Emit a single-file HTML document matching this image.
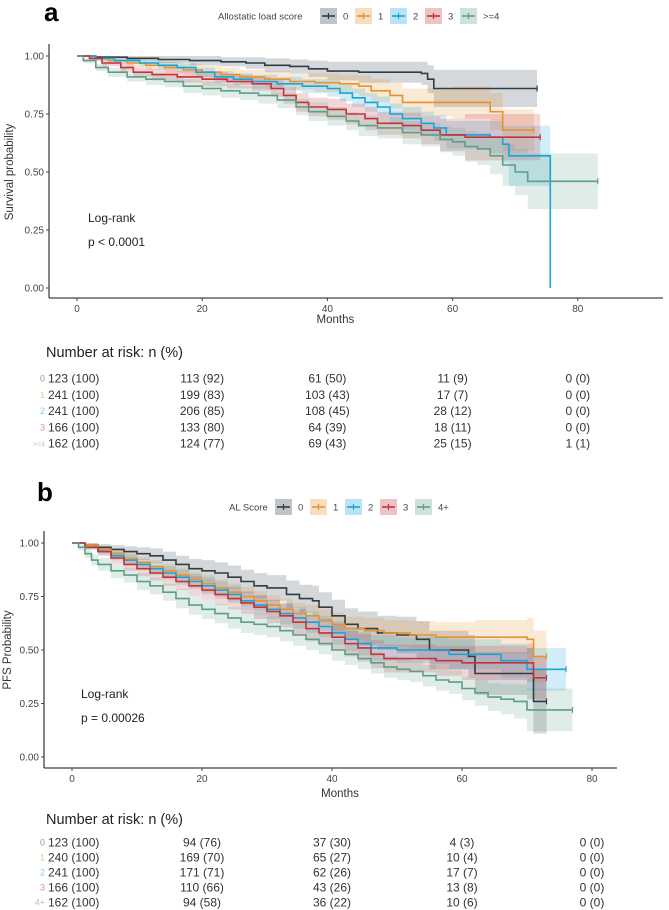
<!DOCTYPE html>
<html><head><meta charset="utf-8">
<style>
html,body{margin:0;padding:0;background:#fff;}
svg{display:block;font-family:"Liberation Sans",sans-serif;}
</style></head>
<body>
<svg id="fig" width="669" height="910" viewBox="0 0 669 910" xmlns="http://www.w3.org/2000/svg"></svg>
<script>
// ---------- DATA ----------
const groupColors = ["#2f3d44","#e8922f","#19a4d8","#c1343d","#5e9e86"];
const labelsA = ["0","1","2","3",">=4"];
const labelsB = ["0","1","2","3","4+"];
const xTicks = [0,20,40,60,80];
const yTicks = [0,0.25,0.5,0.75,1];
const yTickLabels = ["0.00","0.25","0.50","0.75","1.00"];

// Panel a: overall survival (months, probability, CI half-width)
const a0T = [0,3,8,13,18,23,27,30,34,37,40,45,50,55,56,57,73.5];
const a0S = [1,.995,.99,.985,.98,.975,.97,.96,.955,.945,.935,.93,.93,.925,.9,.86,.86];
const a0H = [0,.005,.01,.015,.02,.02,.025,.03,.03,.035,.04,.045,.045,.05,.06,.08,.11];
const a1T = [0,2,5,8,11,14,17,20,23,26,30,34,38,42,45,47,50,52,60,66,68,73];
const a1S = [1,.99,.98,.97,.96,.95,.94,.93,.92,.91,.90,.89,.885,.88,.87,.85,.83,.80,.80,.76,.68,.68];
const a1H = [0,.01,.015,.02,.02,.025,.025,.03,.03,.03,.035,.035,.04,.04,.045,.05,.055,.06,.07,.08,.09,.09];
const a2T = [0,3,6,10,13,16,19,22,25,28,32,36,40,42,44,46,48,50,52,55,57,59,66,68,69,75.6,75.6];
const a2S = [1,.99,.98,.97,.96,.95,.93,.91,.90,.89,.88,.87,.86,.84,.82,.80,.78,.75,.73,.71,.69,.66,.65,.62,.57,.57,0];
const a2H = [0,.01,.01,.015,.015,.02,.02,.025,.025,.03,.03,.03,.035,.035,.04,.04,.045,.045,.05,.05,.055,.06,.07,.08,.13,.14,0];
const a3T = [0,2,4,7,9,12,16,20,24,28,31,33,35,37,40,43,46,48,52,55,58,62,74];
const a3S = [1,.99,.97,.95,.93,.92,.91,.90,.89,.88,.86,.83,.80,.78,.77,.75,.73,.71,.70,.68,.66,.65,.65];
const a3H = [0,.01,.015,.02,.02,.025,.025,.03,.03,.03,.035,.035,.04,.04,.045,.045,.05,.05,.055,.06,.07,.1,.11];
const a4T = [0,1,3,5,8,11,14,17,20,23,26,29,32,35,37,40,43,45,48,52,55,58,60,62,64,66,68,70,72,83.2];
const a4S = [1,.98,.95,.93,.91,.90,.89,.87,.86,.85,.84,.83,.81,.78,.76,.74,.72,.70,.69,.67,.66,.64,.63,.61,.60,.57,.53,.50,.46,.46];
const a4H = [0,.01,.015,.02,.02,.025,.025,.03,.03,.03,.03,.035,.035,.035,.04,.04,.04,.045,.045,.05,.05,.055,.06,.065,.07,.08,.09,.1,.12,.16];

// Panel b: progression-free survival
const b0T = [0,2,4,6,8,10,12,14,16,18,20,22,24,26,28,30,33,35,37,38,40,42,44,47,50,53,55,58,61,62,70,71,73];
const b0S = [1,.99,.98,.97,.96,.95,.94,.92,.90,.88,.87,.86,.84,.82,.80,.79,.76,.74,.73,.70,.66,.62,.60,.58,.57,.55,.50,.50,.47,.39,.39,.26,.26];
const b0H = [0,.01,.015,.02,.025,.03,.035,.04,.04,.045,.05,.05,.055,.055,.06,.06,.065,.065,.07,.07,.075,.075,.08,.08,.085,.085,.09,.09,.1,.1,.12,.15,.15];
const b1T = [0,2,4,6,8,10,12,14,16,18,20,22,24,26,28,30,32,34,36,38,40,42,45,48,52,56,62,70,71,73];
const b1S = [1,.99,.97,.95,.93,.91,.89,.87,.85,.83,.81,.79,.77,.75,.73,.71,.69,.67,.66,.64,.62,.60,.59,.58,.57,.56,.56,.55,.47,.47];
const b1H = [0,.01,.015,.02,.025,.025,.03,.03,.035,.035,.04,.04,.04,.045,.045,.045,.05,.05,.05,.05,.055,.055,.06,.06,.065,.07,.08,.1,.12,.12];
const b2T = [0,2,4,6,8,10,12,14,16,18,20,22,24,26,28,30,32,34,36,38,40,42,44,46,50,55,58,66,70,76];
const b2S = [1,.98,.96,.94,.92,.90,.88,.86,.84,.82,.80,.78,.76,.73,.71,.69,.67,.65,.63,.61,.58,.55,.53,.51,.50,.50,.48,.45,.41,.41];
const b2H = [0,.01,.015,.02,.025,.025,.03,.03,.035,.035,.04,.04,.04,.045,.045,.045,.05,.05,.05,.05,.055,.055,.055,.06,.06,.065,.07,.08,.1,.1];
const b3T = [0,2,4,6,8,10,12,14,16,18,20,22,24,26,28,30,32,34,36,38,40,42,44,46,48,56,60,70,71,73];
const b3S = [1,.98,.96,.93,.90,.88,.86,.84,.82,.80,.78,.76,.74,.72,.70,.68,.66,.63,.60,.58,.56,.53,.51,.48,.46,.45,.44,.44,.37,.37];
const b3H = [0,.01,.02,.025,.03,.035,.035,.04,.04,.045,.045,.05,.05,.05,.055,.055,.055,.06,.06,.06,.06,.06,.065,.065,.065,.07,.08,.09,.1,.1];
const b4T = [0,1,2,3,4,6,8,10,12,14,16,18,20,22,24,26,28,30,32,34,36,38,40,42,44,46,48,50,52,54,56,58,60,62,64,66,68,70,77];
const b4S = [1,.98,.95,.92,.90,.87,.85,.82,.80,.77,.74,.71,.69,.67,.65,.63,.62,.61,.59,.57,.55,.53,.50,.48,.46,.44,.42,.41,.40,.38,.36,.35,.32,.30,.28,.27,.26,.22,.22];
const b4H = [0,.015,.02,.025,.03,.035,.035,.04,.04,.04,.045,.045,.045,.045,.05,.05,.05,.05,.05,.05,.05,.05,.05,.05,.05,.05,.05,.05,.05,.05,.05,.055,.055,.06,.065,.07,.08,.1,.1];

// Risk tables
const riskA = [
 ["123 (100)","113 (92)","61 (50)","11 (9)","0 (0)"],
 ["241 (100)","199 (83)","103 (43)","17 (7)","0 (0)"],
 ["241 (100)","206 (85)","108 (45)","28 (12)","0 (0)"],
 ["166 (100)","133 (80)","64 (39)","18 (11)","0 (0)"],
 ["162 (100)","124 (77)","69 (43)","25 (15)","1 (1)"]];
const riskB = [
 ["123 (100)","94 (76)","37 (30)","4 (3)","0 (0)"],
 ["240 (100)","169 (70)","65 (27)","10 (4)","0 (0)"],
 ["241 (100)","171 (71)","62 (26)","17 (7)","0 (0)"],
 ["166 (100)","110 (66)","43 (26)","13 (8)","0 (0)"],
 ["162 (100)","94 (58)","36 (22)","10 (6)","0 (0)"]];

// ---------- DRAWING ----------
const svg = document.getElementById('fig');
const NS = "http://www.w3.org/2000/svg";
function mk(tag, attrs, parent){
  const e = document.createElementNS(NS, tag);
  for (const k in attrs) e.setAttribute(k, attrs[k]);
  (parent||svg).appendChild(e); return e;
}
function txt(s, x, y, size, extra, parent){
  const t = mk('text', Object.assign({x:x, y:y, 'font-size':size, fill:'#333'}, extra||{}), parent);
  t.textContent = s; return t;
}

function panel(cfg){
  const g = mk('g', {});
  
  
  const xs = m => cfg.x0 + m*cfg.pxPerMonth;
  const ys = p => cfg.yBottom - p*(cfg.yBottom - cfg.yTop);

  const L = txt(cfg.letter, cfg.letterX, cfg.letterY, 26, {'font-weight':'bold', fill:'#000'}, g);
  
  

  const lg = mk('g', {}, g);
  
  
  const lt = txt(cfg.legendTitle, cfg.legX, cfg.legY+3.5, 9.5, {fill:'#444'}, lg);
  
  
  let lx = cfg.legKeyX;
  cfg.labels.forEach((lab, i) => {
    const ent = mk('g', {}, lg);
    
    
    mk('rect', {x:lx, y:cfg.legY-8, width:17, height:16, fill:groupColors[i], 'fill-opacity':0.3}, ent);
    mk('line', {x1:lx+2, x2:lx+15, y1:cfg.legY, y2:cfg.legY, stroke:groupColors[i], 'stroke-width':1.6}, ent);
    mk('line', {x1:lx+8.5, x2:lx+8.5, y1:cfg.legY-3, y2:cfg.legY+3, stroke:groupColors[i], 'stroke-width':1.2}, ent);
    txt(lab, lx+23, cfg.legY+3.5, 9.5, {fill:'#444'}, ent);
    lx += 23 + (lab.length>1 ? lab.length*6.5 : 6) + 6;
  });

  cfg.series.forEach((s, i) => {
    const [T,S,H] = s;
    let up = [], lo = [];
    for (let k=0;k<T.length;k++){
      if (S[k] === 0) break;
      const xA = xs(T[k]), xB = xs(k<T.length-1 ? T[k+1] : T[k]);
      const u = Math.min(1, S[k]+H[k]), l = Math.max(0, S[k]-H[k]);
      up.push([xA, ys(u)], [xB, ys(u)]);
      lo.push([xA, ys(l)], [xB, ys(l)]);
    }
    const pts = up.concat(lo.reverse()).map(p=>p[0].toFixed(1)+','+p[1].toFixed(1)).join(' ');
    const band = mk('polygon', {points:pts, fill:groupColors[i], 'fill-opacity':0.2, stroke:'none'}, g);
    
    
  });
  cfg.series.forEach((s, i) => {
    const [T,S] = s;
    let d = 'M'+xs(T[0]).toFixed(1)+','+ys(S[0]).toFixed(1);
    for (let k=1;k<T.length;k++){
      d += ' H'+xs(T[k]).toFixed(1)+' V'+ys(S[k]).toFixed(1);
    }
    const p = mk('path', {d:d, fill:'none', stroke:groupColors[i], 'stroke-width':1.6}, g);
    
    
    const ex = xs(T[T.length-1]), ey = ys(S[S.length-1]);
    if (S[S.length-1] > 0) {
      const c = mk('line', {x1:ex, x2:ex, y1:ey-3, y2:ey+3, stroke:groupColors[i], 'stroke-width':1.2}, g);
      
      
    }
  });

  const ax = mk('g', {}, g);
  
  
  mk('line', {x1:cfg.axisX, x2:cfg.axisX, y1:cfg.yTop-12, y2:cfg.axisY, stroke:'#444', 'stroke-width':1.3}, ax);
  mk('line', {x1:cfg.axisX, x2:cfg.axisEnd, y1:cfg.axisY, y2:cfg.axisY, stroke:'#444', 'stroke-width':1.3}, ax);
  yTicks.forEach((v, k) => {
    const y = ys(v);
    mk('line', {x1:cfg.axisX-3, x2:cfg.axisX, y1:y, y2:y, stroke:'#444'}, ax);
    const t = txt(yTickLabels[k], cfg.axisX-5, y+3.5, 10, {'text-anchor':'end', fill:'#444'}, ax);
    
    
  });
  xTicks.forEach(v => {
    const x = xs(v);
    mk('line', {x1:x, x2:x, y1:cfg.axisY, y2:cfg.axisY+3, stroke:'#444'}, ax);
    const t = txt(String(v), x, cfg.axisY+14, 10, {'text-anchor':'middle', fill:'#444'}, ax);
    
    
  });
  const xt = txt('Months', xs(40)+8, cfg.monthsY, 11.5, {'text-anchor':'middle', fill:'#333'}, ax);
  
  
  const cy = (cfg.yTop+cfg.yBottom)/2;
  const yt = txt(cfg.yTitle, cfg.yTitleX, cy, 11.5, {'text-anchor':'middle', fill:'#333', transform:'rotate(-90 '+cfg.yTitleX+' '+cy+')'}, ax);
  
  

  const lr = txt('Log-rank', cfg.lrX, cfg.lrY, 12, {fill:'#222'}, g);
  
  
  const pv = txt(cfg.pText, cfg.lrX, cfg.lrY+24, 12, {fill:'#222'}, g);
  
  

  const tb = mk('g', {}, g);
  
  
  const tt = txt('Number at risk: n (%)', 46, cfg.tableTitleY, 14.5, {fill:'#222'}, tb);
  
  
  cfg.risk.forEach((row, r) => {
    const y = cfg.rowY0 + r*cfg.rowStep;
    const lab = txt(cfg.labels[r], 45, y+3.5, r===4 && cfg.labels[r].length>2 ? 7 : 9, {'text-anchor':'end', fill:groupColors[r], 'fill-opacity':0.55}, tb);
    
    
    row.forEach((cell, c) => {
      const attrs = c===0 ? {fill:'#333'} : {'text-anchor':'middle', fill:'#333'};
      const t = txt(cell, c===0 ? 48 : xs(xTicks[c]), y+4.5, 12, attrs, tb);
      
      
    });
  });
}

panel({name:'panel-a-overall-survival', letter:'a', letterX:44, letterY:21,
  legendTitle:'Allostatic load score', legX:218, legY:16, legKeyX:320, labels:labelsA,
  x0:77, pxPerMonth:6.26, yTop:56, yBottom:288, axisX:49, axisY:298, axisEnd:663,
  monthsY:323, yTitle:'Survival probability', yTitleX:13,
  lrX:88, lrY:222, pText:'p < 0.0001',
  series:[[a0T,a0S,a0H],[a1T,a1S,a1H],[a2T,a2S,a2H],[a3T,a3S,a3H],[a4T,a4S,a4H]],
  risk:riskA, tableTitleY:357, rowY0:378, rowStep:16.3});

panel({name:'panel-b-progression-free-survival', letter:'b', letterX:37, letterY:501,
  legendTitle:'AL Score', legX:229, legY:507, legKeyX:275, labels:labelsB,
  x0:72, pxPerMonth:6.5, yTop:543, yBottom:757, axisX:44, axisY:768, axisEnd:617,
  monthsY:797, yTitle:'PFS Probability', yTitleX:11,
  lrX:81, lrY:698, pText:'p = 0.00026',
  series:[[b0T,b0S,b0H],[b1T,b1S,b1H],[b2T,b2S,b2H],[b3T,b3S,b3H],[b4T,b4S,b4H]],
  risk:riskB, tableTitleY:824, rowY0:842, rowStep:15});
</script>
</body></html>
